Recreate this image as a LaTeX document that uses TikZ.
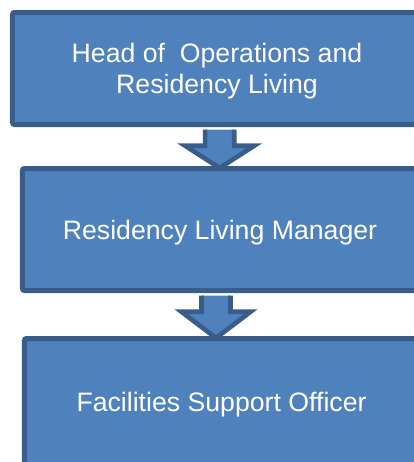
\documentclass[tikz,border=0pt]{standalone}
\usepackage{fontspec}
\setmainfont{Liberation Sans}
\usetikzlibrary{calc}

\definecolor{boxfill}{HTML}{4F81BD}
\definecolor{boxline}{HTML}{385D8A}

\tikzset{
  rolebox/.style={draw=boxline, fill=boxfill, line width=3.75pt, rounded corners=1.5pt,
    text=white, align=center, font=\fontsize{20}{23}\selectfont, inner sep=0pt,
    text depth=0pt},
  flowarrow/.style={draw=boxline, fill=boxfill, line width=3.5pt}
}

% block arrow from one box down to the next
\newcommand{\flowarrow}[3]{%
  \filldraw[flowarrow] let \p1=($(#1.south)+(#3,0)$), \p2=(#2.north) in
    (\x1-10.9pt,\y1-1.9pt) -- (\x1-10.9pt,\y1-14pt) -- (\x1-26pt,\y1-14pt) --
    (\x1,\y2-1.5pt) -- (\x1+26pt,\y1-14pt) -- (\x1+10.9pt,\y1-14pt) --
    (\x1+10.9pt,\y1-1.9pt);}

\begin{document}
\begin{tikzpicture}[x=0.75pt, y=-0.75pt]
  \useasboundingbox (0,0) rectangle (414,462);
  \clip (0,0) rectangle (414,462);

  % the three roles
  \node[rolebox, minimum width=306.75pt, minimum height=84pt] (head) at (217,68.5)
    {Head of~ Operations and\\Residency Living};
  \node[rolebox, minimum width=296.25pt, minimum height=91.5pt] (manager) at (220,229.5)
    {Residency Living Manager};
  \node[rolebox, minimum width=295.5pt, minimum height=95.25pt] (officer) at (221.5,402)
    {Facilities Support Officer};

  % reporting arrows
  \flowarrow{head}{manager}{2pt}
  \flowarrow{manager}{officer}{-3pt}
\end{tikzpicture}
\end{document}
